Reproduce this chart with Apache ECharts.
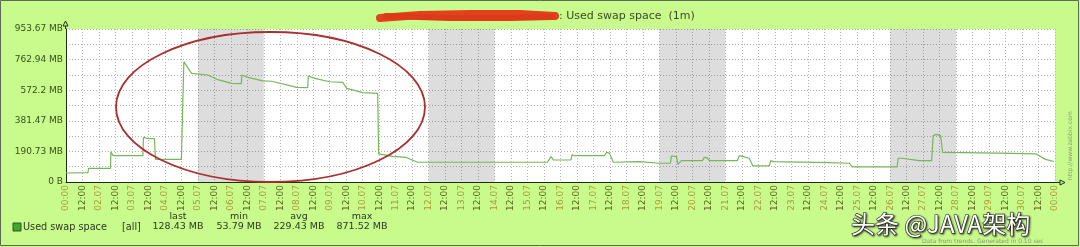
<!DOCTYPE html>
<html>
<head>
<meta charset="utf-8">
<script src="https://cdn.jsdelivr.net/npm/echarts@6/dist/echarts.min.js"></script>
<style>html,body{margin:0;padding:0;background:#c8fa8c;}#c{width:1080px;height:247px;}</style>
</head>
<body>
<div id="c"></div>
<script>
// ---- data (hours since 01.07 00:00, MB) ----
const seriesName = 'Used swap space';
const hours = [0,16,16.4,32.4,32.7,34.2,56,56.4,58.9,64.4,65.1,84,84.7,85.8,91.4,103.3,109.8,120.7,127.6,128,132.4,143.3,149.8,168,176,176.4,181.1,192,201.5,204.4,216,226.9,227.6,237.8,247.3,256,350.5,353.1,354.9,367.6,368.4,370.2,392,393.5,395.6,398.5,417.5,432,440,440.7,444.4,445.5,448,463.3,464.7,466.9,468.4,488.7,490.2,497.5,500,512,513.1,514.9,555.6,570.2,572.4,605.1,605.8,608.7,621.1,630.2,631.3,633.5,636.7,638.2,679.3,706.2,713.1,719.3];
const swapMB = [56,58,85,85,189,165,165,279,272,270,141,141,150,750,677,667,640,615,613,667,652,630,628,590,588,661,646,625,621,584,557,553,175,160,154,123,123,158,137,137,170,164,164,185,180,123,127,117,118,162,158,110,133,133,154,150,133,133,164,148,100,100,133,127,121,117,94,94,148,148,133,133,289,297,289,185,180,175,141,128];
const weekendStart = [96, 264, 432, 600];
const weekendEnd = [144, 312, 480, 648];
const yTickLabels = ['0 B','190.73 MB','381.47 MB','572.2 MB','762.94 MB','953.67 MB'];
const yMax = 953.67;
const xTickLabels = ['00:00','12:00','02.07','12:00','03.07','12:00','04.07','12:00','05.07','12:00','06.07','12:00','07.07','12:00','08.07','12:00','09.07','12:00','10.07','12:00','11.07','12:00','12.07','12:00','13.07','12:00','14.07','12:00','15.07','12:00','16.07','12:00','17.07','12:00','18.07','12:00','19.07','12:00','20.07','12:00','21.07','12:00','22.07','12:00','23.07','12:00','24.07','12:00','25.07','12:00','26.07','12:00','27.07','12:00','28.07','12:00','29.07','12:00','30.07','12:00','00:00'];
const statHeaders = ['last','min','avg','max'];
const statValues = ['128.43 MB','53.79 MB','229.43 MB','871.52 MB'];
const titleText = ': Used swap space  (1m)';

const chart = echarts.init(document.getElementById('c'), null, {renderer:'canvas'});
const F = 'DejaVu Sans';
const lineData = hours.map((h,i)=>[h, swapMB[i]]);
const areas = weekendStart.map((s,i)=>[{xAxis:s},{xAxis:weekendEnd[i]}]);
const statX = [178, 239, 299, 362];

const graphics = [
  {type:'rect', shape:{x:0.5,y:0.5,width:1078,height:245}, style:{fill:'none', stroke:'#5d6b52', lineWidth:1}, z:100},
  // redaction scribble
  {type:'polyline', shape:{points:[[380,18],[420,15],[470,14],[520,14],[555,16]]}, style:{stroke:'#e3401e', lineWidth:8, lineCap:'round', lineJoin:'round'}, z:50},
  {type:'polyline', shape:{points:[[386,16],[450,18],[510,18],[552,17]]}, style:{stroke:'#dd3a1a', lineWidth:6, lineCap:'round'}, z:50},
  {type:'text', x:559, y:16, style:{text:titleText, font:'11px '+F, fill:'#3b4a22', textVerticalAlign:'middle'}, z:50},
  // arrows
  {type:'line', shape:{x1:65.5,y1:29,x2:65.5,y2:23}, style:{stroke:'#1e2c14', lineWidth:1}, z:60},
  {type:'polygon', shape:{points:[[63,26],[68,26],[65.5,21]]}, style:{fill:'#c8fa8c', stroke:'#1e2c14', lineWidth:1}, z:60},
  {type:'line', shape:{x1:1055,y1:182.5,x2:1060,y2:182.5}, style:{stroke:'#1e2c14', lineWidth:1}, z:60},
  {type:'polygon', shape:{points:[[1060,180],[1060,185],[1065,182.5]]}, style:{fill:'#c8fa8c', stroke:'#1e2c14', lineWidth:1}, z:60},
  // annotation ellipse
  {type:'ellipse', shape:{cx:270.5, cy:107, rx:154.5, ry:75}, style:{fill:'none', stroke:'#a8302e', lineWidth:1.8}, z:80},
  // legend extras
  {type:'rect', shape:{x:13,y:223,width:8,height:8}, style:{fill:'#43a533', stroke:'#2a5a1a', lineWidth:1}, z:50},
  {type:'text', x:23, y:227, style:{text:seriesName, font:'9.7px '+F, fill:'#2c3a20', textVerticalAlign:'middle'}, z:50},
  {type:'text', x:122, y:227, style:{text:'[all]', font:'9.7px '+F, fill:'#2c3a20', textVerticalAlign:'middle'}, z:50},
  // footer texts
  {type:'text', x:922, y:241, style:{text:'Data from trends. Generated in 0.10 sec', font:'6px '+F, fill:'#8a9a78', textVerticalAlign:'middle'}, z:40},
  {type:'text', x:1070, y:180, rotation:Math.PI/2, style:{text:'http://www.zabbix.com', font:'6px '+F, fill:'#8a9a78', textVerticalAlign:'middle'}, z:40},
  {type:'text', x:851, y:224, style:{text:'头条 @JAVA架构', font:'24px "Noto Sans CJK SC"', fill:'#ffffff', stroke:'#2a2a2a', lineWidth:1.2, textVerticalAlign:'middle', textShadowColor:'rgba(0,0,0,0.6)', textShadowBlur:2, textShadowOffsetX:1, textShadowOffsetY:1}, z:90}
];
statHeaders.forEach((h,i)=>{
  graphics.push({type:'text', x:statX[i], y:217, style:{text:h, font:'9.5px '+F, fill:'#2c3a20', textAlign:'center', textVerticalAlign:'middle'}, z:50});
  graphics.push({type:'text', x:statX[i], y:227, style:{text:statValues[i], font:'9.5px '+F, fill:'#2c3a20', textAlign:'center', textVerticalAlign:'middle'}, z:50});
});

chart.setOption({
  backgroundColor:'#c8fa8c',
  animation:false,
  grid:{left:66, right:25, top:29, bottom:65, show:true, backgroundColor:'#ffffff', borderWidth:0},
  xAxis:{
    type:'value', min:0, max:720, interval:12,
    axisLine:{show:true, onZero:false, lineStyle:{color:'#1e2c14', width:1}},
    axisTick:{show:false},
    splitLine:{show:true, lineStyle:{color:'#b4b4b4', type:[1,2], width:1}},
    axisLabel:{
      rotate:90, margin:3, fontFamily:F, fontSize:9,
      formatter:(v)=>{ const i=Math.round(v/12); const s=xTickLabels[i]; if(s===undefined) return ''; return s==='12:00' ? '{t|'+s+'}' : '{d|'+s+'}'; },
      rich:{ t:{color:'#5a6418', fontFamily:F, fontSize:9}, d:{color:'#ad9a3a', fontFamily:F, fontSize:9} }
    }
  },
  yAxis:{
    type:'value', min:0, max:yMax, interval:yMax/10,
    axisLine:{show:true, lineStyle:{color:'#1e2c14', width:1}},
    axisTick:{show:false},
    splitLine:{show:true, lineStyle:{color:'#b4b4b4', type:[1,2], width:1}},
    axisLabel:{
      margin:3, fontFamily:F, fontSize:9, color:'#36501c',
      formatter:(v,idx)=>{ const k=Math.round(v/(yMax/10)); return k%2===0 ? (yTickLabels[k/2]||'') : ''; }
    }
  },
  series:[
    {type:'line', data:[], z:1, silent:true, markArea:{silent:true, itemStyle:{color:'rgba(0,0,0,0.135)'}, data:areas}},
    {name:seriesName, type:'line', data:lineData, z:5, showSymbol:false, silent:true,
     lineStyle:{color:'#78b65a', width:1.2}}
  ],
  graphic:graphics
});
</script>
</body>
</html>
